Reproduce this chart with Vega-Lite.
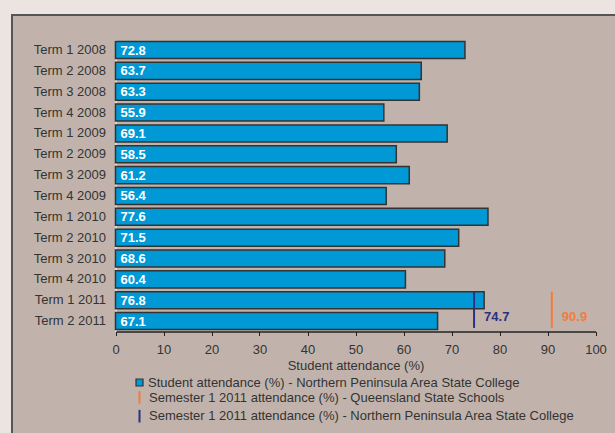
{
  "$schema": "https://vega.github.io/schema/vega-lite/v6.json",
  "width": 610,
  "height": 430,
  "autosize": {"type": "none"},
  "padding": {"left": 12, "top": 15, "right": 0, "bottom": 0},
  "background": "#ebe4e1",
  "view": {"fill": "#c1b3ab", "stroke": "#555555", "strokeWidth": 2},
  "config": {
    "font": "Liberation Sans",
    "axis": {"labelFont": "Liberation Sans", "titleFont": "Liberation Sans", "labelColor": "#333333", "titleColor": "#333333"},
    "legend": {"labelFont": "Liberation Sans"}
  },
  "datasets": {
    "terms": [
      {"term": "Term 1 2008", "value": 72.8, "series": "Student attendance (%) - Northern Peninsula Area State College"},
      {"term": "Term 2 2008", "value": 63.7, "series": "Student attendance (%) - Northern Peninsula Area State College"},
      {"term": "Term 3 2008", "value": 63.3, "series": "Student attendance (%) - Northern Peninsula Area State College"},
      {"term": "Term 4 2008", "value": 55.9, "series": "Student attendance (%) - Northern Peninsula Area State College"},
      {"term": "Term 1 2009", "value": 69.1, "series": "Student attendance (%) - Northern Peninsula Area State College"},
      {"term": "Term 2 2009", "value": 58.5, "series": "Student attendance (%) - Northern Peninsula Area State College"},
      {"term": "Term 3 2009", "value": 61.2, "series": "Student attendance (%) - Northern Peninsula Area State College"},
      {"term": "Term 4 2009", "value": 56.4, "series": "Student attendance (%) - Northern Peninsula Area State College"},
      {"term": "Term 1 2010", "value": 77.6, "series": "Student attendance (%) - Northern Peninsula Area State College"},
      {"term": "Term 2 2010", "value": 71.5, "series": "Student attendance (%) - Northern Peninsula Area State College"},
      {"term": "Term 3 2010", "value": 68.6, "series": "Student attendance (%) - Northern Peninsula Area State College"},
      {"term": "Term 4 2010", "value": 60.4, "series": "Student attendance (%) - Northern Peninsula Area State College"},
      {"term": "Term 1 2011", "value": 76.8, "series": "Student attendance (%) - Northern Peninsula Area State College"},
      {"term": "Term 2 2011", "value": 67.1, "series": "Student attendance (%) - Northern Peninsula Area State College"}
    ],
    "markers": [
      {"series": "Semester 1 2011 attendance (%) - Queensland State Schools", "value": 90.9, "from": "Term 1 2011", "to": "Term 2 2011"},
      {"series": "Semester 1 2011 attendance (%) - Northern Peninsula Area State College", "value": 74.7, "from": "Term 1 2011", "to": "Term 2 2011"}
    ]
  },
  "encoding": {
    "y": {
      "field": "term",
      "type": "nominal",
      "scale": {
        "domain": ["Term 1 2008", "Term 2 2008", "Term 3 2008", "Term 4 2008", "Term 1 2009", "Term 2 2009", "Term 3 2009", "Term 4 2009", "Term 1 2010", "Term 2 2010", "Term 3 2010", "Term 4 2010", "Term 1 2011", "Term 2 2011"],
        "range": [24.6, 316.5],
        "paddingInner": 0.18,
        "paddingOuter": 0.09
      },
      "axis": {
        "title": null,
        "offset": -103.5,
        "ticks": false,
        "domainColor": "#ffffff",
        "domainWidth": 1,
        "labelFontSize": 13,
        "labelPadding": 10
      }
    }
  },
  "layer": [
    {
      "data": {"name": "terms"},
      "mark": {"type": "bar", "stroke": "#333333", "strokeWidth": 1.5},
      "encoding": {
        "x": {
          "field": "value",
          "type": "quantitative",
          "scale": {"domain": [0, 100], "range": [103.5, 583.5], "nice": false},
          "axis": {
            "title": "Student attendance (%)",
            "offset": -113.5,
            "values": [0, 10, 20, 30, 40, 50, 60, 70, 80, 90, 100],
            "grid": false,
            "labelFlush": false,
            "domainColor": "#222222",
            "domainWidth": 1.5,
            "tickColor": "#222222",
            "tickSize": 4,
            "labelFontSize": 13,
            "labelPadding": 8,
            "titleFontSize": 13,
            "titleFontWeight": "normal",
            "titlePadding": 3
          }
        },
        "fill": {
          "field": "series",
          "type": "nominal",
          "scale": {
            "domain": ["Student attendance (%) - Northern Peninsula Area State College"],
            "range": ["#0099d6"]
          },
          "legend": {
            "orient": "none",
            "legendX": 121,
            "legendY": 361,
            "title": null,
            "padding": 0,
            "labelFontSize": 13,
            "labelColor": "#333333",
            "labelLimit": 0,
            "labelOffset": 2,
            "symbolSize": 49,
            "symbolType": "square",
            "symbolStrokeColor": "#333333",
            "symbolStrokeWidth": 1.2
          }
        }
      }
    },
    {
      "data": {"name": "terms"},
      "mark": {"type": "text", "align": "left", "baseline": "middle", "dx": 5, "dy": 0.5, "fontWeight": "bold", "fontSize": 13, "color": "#ffffff", "font": "Liberation Sans"},
      "encoding": {
        "x": {"datum": 0, "type": "quantitative"},
        "text": {"field": "value", "type": "quantitative", "format": ".1f"}
      }
    },
    {
      "data": {"name": "markers"},
      "mark": {"type": "rule", "strokeWidth": 2},
      "encoding": {
        "x": {"field": "value", "type": "quantitative"},
        "y": {"field": "from", "type": "nominal", "bandPosition": 0},
        "y2": {"field": "to", "bandPosition": 0.9},
        "stroke": {
          "field": "series",
          "type": "nominal",
          "scale": {
            "domain": ["Semester 1 2011 attendance (%) - Queensland State Schools", "Semester 1 2011 attendance (%) - Northern Peninsula Area State College"],
            "range": ["#f47b3c", "#2b3081"]
          },
          "legend": {
            "orient": "none",
            "legendX": 121,
            "legendY": 376,
            "title": null,
            "padding": 0,
            "labelFontSize": 13,
            "labelColor": "#333333",
            "labelLimit": 0,
            "labelOffset": 3,
            "rowPadding": -2.3,
            "symbolSize": 49,
            "symbolType": "M0,-1.8L0,1.8",
            "symbolStrokeWidth": 2
          }
        }
      }
    },
    {
      "data": {"name": "markers"},
      "mark": {"type": "text", "align": "left", "baseline": "middle", "dx": 10, "dy": -4, "fontWeight": "bold", "fontSize": 13, "font": "Liberation Sans"},
      "encoding": {
        "x": {"field": "value", "type": "quantitative"},
        "y": {"field": "to", "type": "nominal"},
        "text": {"field": "value", "type": "quantitative", "format": ".1f"},
        "color": {
          "condition": {"test": "datum.series === 'Semester 1 2011 attendance (%) - Queensland State Schools'", "value": "#f47b3c"},
          "value": "#2b3081"
        }
      }
    }
  ]
}
